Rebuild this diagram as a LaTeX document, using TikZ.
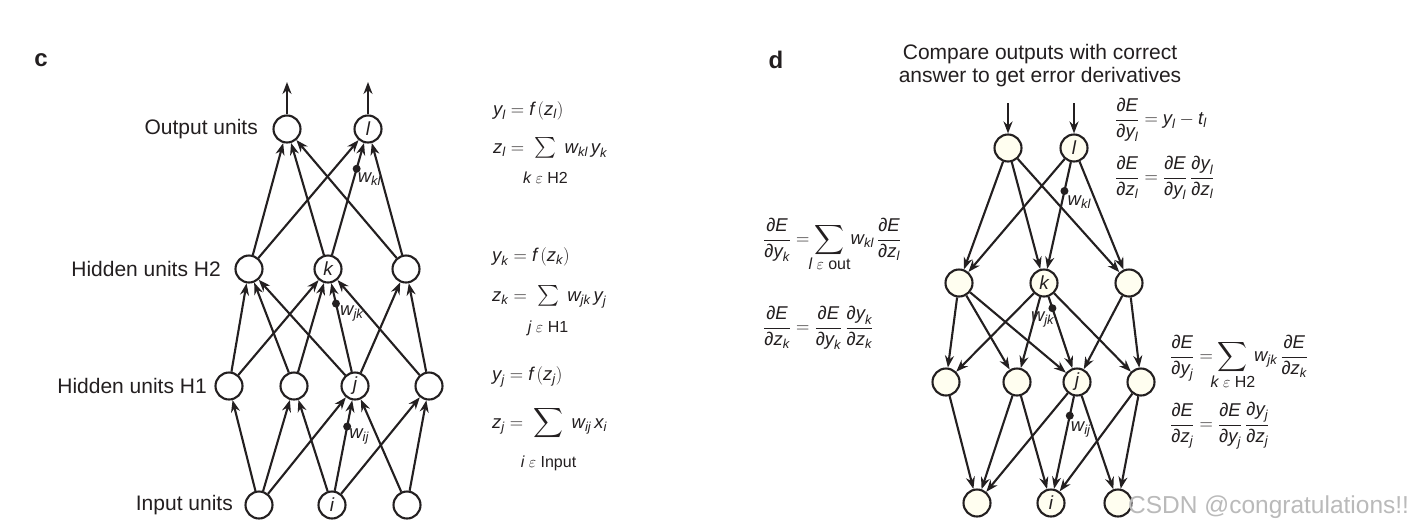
\RequirePackage{fix-cm}
\documentclass[tikz,border=0pt]{standalone}
\usepackage{amsmath}
\usepackage{fontspec}
\setmainfont{Liberation Sans}
\usetikzlibrary{arrows.meta,calc}
\definecolor{ink}{HTML}{231F20}
\definecolor{cream}{HTML}{FFFEF0}
\newcommand{\mi}[1]{\text{\itshape #1}}
\newcommand{\pd}{\text{∂}}
% #1 = size of the sum sign, #2 = style, #3 = drop of the limit, #4 = limit text
\newcommand{\sumunder}[4]{\mathop{\ooalign{\hfil{\fontsize{#1}{#1}\selectfont$#2\sum$}\hfil\cr\hidewidth\raisebox{-#3}{\fontsize{16}{16}\selectfont #4}\hidewidth\cr}}}
\begin{document}
\begin{tikzpicture}[x=1pt,y=-1pt,
  neuron/.style={circle, draw=ink, line width=2.1pt, minimum size=27pt, inner sep=0pt, fill=white, text=ink, font=\fontsize{19}{19}\selectfont\itshape},
  dneuron/.style={neuron, fill=cream},
  arr/.style={draw=ink, line width=2.1pt, -{Stealth[length=12pt,width=9pt]}},
  wdot/.style={circle, fill=ink, minimum size=8pt, inner sep=0pt},
  lab/.style={font=\fontsize{21}{21}\selectfont, text=ink, inner sep=0pt, anchor=east},
  eqn/.style={font=\fontsize{18.5}{22}\selectfont, text=ink, inner sep=0pt, anchor=base west},
  wlab/.style={font=\fontsize{18.5}{18}\selectfont, text=ink, inner sep=0pt},
  panel/.style={font=\fontsize{24}{24}\selectfont\bfseries, text=ink, inner sep=0pt},
  title/.style={font=\fontsize{21}{23}\selectfont, text=ink, align=center, inner sep=0pt},
  wmark/.style={font=\fontsize{24.5}{24}\selectfont, text=black!27, inner sep=0pt, anchor=base west}
]
\path[use as bounding box, fill=white] (0,0) rectangle (1420,531);

% ---------------- panel c ----------------
\node[panel] (lc) at (41,60) {c};

\node[neuron] (o1) at (287,129) {};
\node[neuron] (o2) at (368,129) {l};
\node[neuron] (h2a) at (249,269) {};
\node[neuron] (h2k) at (328,269) {k};
\node[neuron] (h2c) at (406,269) {};
\node[neuron] (h1a) at (229,386) {};
\node[neuron] (h1b) at (294,386) {};
\node[neuron] (h1j) at (355,386) {j};
\node[neuron] (h1d) at (429,386) {};
\node[neuron] (in1) at (259,505) {};
\node[neuron] (ini) at (332,505) {i};
\node[neuron] (in3) at (407,505) {};

\node[lab] (tout) at (258,129) {Output units};
\node[lab] (th2) at (221,269) {Hidden units H2};
\node[lab] (th1) at (207,386) {Hidden units H1};
\node[lab] (tin) at (233,505) {Input units};

\coordinate (oc1) at (287,82);
\coordinate (oc2) at (368,82);
\draw[arr] (o1) -- (oc1);
\draw[arr] (o2) -- (oc2);

\draw[arr] (h2a) -- (o1);
\draw[arr] (h2a) -- (o2);
\draw[arr] (h2k) -- (o1);
\draw[arr] (h2k) -- node[wdot, pos=0.77] (dkl) {} (o2);
\draw[arr] (h2c) -- (o1);
\draw[arr] (h2c) -- (o2);

\draw[arr] (h1a) -- (h2a);
\draw[arr] (h1a) -- (h2k);
\draw[arr] (h1b) -- (h2a);
\draw[arr] (h1b) -- (h2k);
\draw[arr] (h1j) -- (h2a);
\draw[arr] (h1j) -- node[wdot, pos=0.77] (djk) {} (h2k);
\draw[arr] (h1j) -- (h2c);
\draw[arr] (h1d) -- (h2k);
\draw[arr] (h1d) -- (h2c);

\draw[arr] (in1) -- (h1a);
\draw[arr] (in1) -- (h1b);
\draw[arr] (in1) -- (h1j);
\draw[arr] (ini) -- (h1b);
\draw[arr] (ini) -- node[wdot, pos=0.71] (dij) {} (h1j);
\draw[arr] (ini) -- (h1d);
\draw[arr] (in3) -- (h1j);
\draw[arr] (in3) -- (h1d);

\node[wlab, anchor=north west] (wkl) at ([xshift=1pt,yshift=-4pt]dkl.center) {$\mi{w}_{\mi{kl}}$};
\node[wlab, anchor=north west] (wjk) at ([xshift=4pt,yshift=-2pt]djk.center) {$\mi{w}_{\mi{jk}}$};
\node[wlab, anchor=north west] (wij) at ([xshift=2pt,yshift=-2pt]dij.center) {$\mi{w}_{\mi{ij}}$};

\node[eqn] (ce1) at (493,115) {$\mi{y}_{\mi{l}} = \mi{f}\,(\mi{z}_{\mi{l}})$};
\node[eqn] (ce2) at (493,153) {$\mi{z}_{\mi{l}} =\;\sumunder{22}{\textstyle}{30pt}{{\itshape k} $\varepsilon$ H2}\;\mi{w}_{\mi{kl}}\,\mi{y}_{\mi{k}}$};
\node[eqn] (ce3) at (492,261) {$\mi{y}_{\mi{k}} = \mi{f}\,(\mi{z}_{\mi{k}})$};
\node[eqn] (ce4) at (492,301) {$\mi{z}_{\mi{k}} =\;\sumunder{22}{\textstyle}{31pt}{{\itshape j} $\varepsilon$ H1}\;\mi{w}_{\mi{jk}}\,\mi{y}_{\mi{j}}$};
\node[eqn] (ce5) at (492,380) {$\mi{y}_{\mi{j}} = \mi{f}\,(\mi{z}_{\mi{j}})$};
\node[eqn] (ce6) at (492,428) {$\mi{z}_{\mi{j}} =\;\sumunder{21}{\displaystyle}{39pt}{{\itshape i} $\varepsilon$ Input}\;\mi{w}_{\mi{ij}}\,\mi{x}_{\mi{i}}$};

% ---------------- panel d ----------------
\node[panel] (ld) at (776,60) {d};
\node[title] (ttl) at (1040,66) {Compare outputs with correct\\answer to get error derivatives};

\node[dneuron] (do1) at (1008,148) {};
\node[dneuron] (do2) at (1074,148) {l};
\node[dneuron] (dh2a) at (959,283) {};
\node[dneuron] (dh2k) at (1044,283) {k};
\node[dneuron] (dh2c) at (1129,283) {};
\node[dneuron] (dh1a) at (946,382) {};
\node[dneuron] (dh1b) at (1017,382) {};
\node[dneuron] (dh1j) at (1077,382) {j};
\node[dneuron] (dh1d) at (1141,382) {};
\node[dneuron] (din1) at (977,503) {};
\node[dneuron] (dini) at (1051,503) {i};
\node[dneuron] (din3) at (1118,503) {};

\coordinate (dc1) at (1008,103);
\coordinate (dc2) at (1074,103);
\draw[arr] (dc1) -- (do1);
\draw[arr] (dc2) -- (do2);

\draw[arr] (do1) -- (dh2a);
\draw[arr] (do1) -- (dh2k);
\draw[arr] (do1) -- (dh2c);
\draw[arr] (do2) -- (dh2a);
\draw[arr] (do2) -- node[wdot, pos=0.27] (ddkl) {} (dh2k);
\draw[arr] (do2) -- (dh2c);

\draw[arr] (dh2a) -- (dh1a);
\draw[arr] (dh2a) -- (dh1b);
\draw[arr] (dh2a) -- (dh1j);
\draw[arr] (dh2k) -- (dh1a);
\draw[arr] (dh2k) -- (dh1b);
\draw[arr] (dh2k) -- node[wdot, pos=0.16] (ddjk) {} (dh1j);
\draw[arr] (dh2k) -- (dh1d);
\draw[arr] (dh2c) -- (dh1j);
\draw[arr] (dh2c) -- (dh1d);

\draw[arr] (dh1a) -- (din1);
\draw[arr] (dh1b) -- (din1);
\draw[arr] (dh1b) -- (dini);
\draw[arr] (dh1j) -- (din1);
\draw[arr] (dh1j) -- node[wdot, pos=0.21] (ddij) {} (dini);
\draw[arr] (dh1j) -- (din3);
\draw[arr] (dh1d) -- (dini);
\draw[arr] (dh1d) -- (din3);

\node[wlab, anchor=north west] (dwkl) at ([xshift=3pt,yshift=-5pt]ddkl.center) {$\mi{w}_{\mi{kl}}$};
\node[wlab, anchor=north east] (dwjk) at ([xshift=2pt,yshift=-3pt]ddjk.center) {$\mi{w}_{\mi{jk}}$};
\node[wlab, anchor=north west] (dwij) at ([xshift=1pt,yshift=-6pt]ddij.center) {$\mi{w}_{\mi{ij}}$};

\node[eqn] (de1) at (1115,124.5) {$\dfrac{\pd\mi{E}}{\pd\mi{y}_{\mi{l}}} = \mi{y}_{\mi{l}} - \mi{t}_{\mi{l}}$};
\node[eqn] (de2) at (1115,182.5) {$\dfrac{\pd\mi{E}}{\pd\mi{z}_{\mi{l}}} = \dfrac{\pd\mi{E}}{\pd\mi{y}_{\mi{l}}}\,\dfrac{\pd\mi{y}_{\mi{l}}}{\pd\mi{z}_{\mi{l}}}$};
\node[eqn] (de3) at (763,244.5) {$\dfrac{\pd\mi{E}}{\pd\mi{y}_{\mi{k}}} = \sumunder{19.5}{\displaystyle}{25pt}{{\itshape l} $\varepsilon$ out}\,\mi{w}_{\mi{kl}}\,\dfrac{\pd\mi{E}}{\pd\mi{z}_{\mi{l}}}$};
\node[eqn] (de4) at (763,332.5) {$\dfrac{\pd\mi{E}}{\pd\mi{z}_{\mi{k}}} = \dfrac{\pd\mi{E}}{\pd\mi{y}_{\mi{k}}}\,\dfrac{\pd\mi{y}_{\mi{k}}}{\pd\mi{z}_{\mi{k}}}$};
\node[eqn] (de5) at (1170,361.5) {$\dfrac{\pd\mi{E}}{\pd\mi{y}_{\mi{j}}} = \sumunder{19.5}{\displaystyle}{26pt}{{\itshape k} $\varepsilon$ H2}\,\mi{w}_{\mi{jk}}\,\dfrac{\pd\mi{E}}{\pd\mi{z}_{\mi{k}}}$};
\node[eqn] (de6) at (1170,429.5) {$\dfrac{\pd\mi{E}}{\pd\mi{z}_{\mi{j}}} = \dfrac{\pd\mi{E}}{\pd\mi{y}_{\mi{j}}}\,\dfrac{\pd\mi{y}_{\mi{j}}}{\pd\mi{z}_{\mi{j}}}$};

\node[wmark] (wm) at (1128,513) {CSDN @congratulations!!};
\end{tikzpicture}
\end{document}
